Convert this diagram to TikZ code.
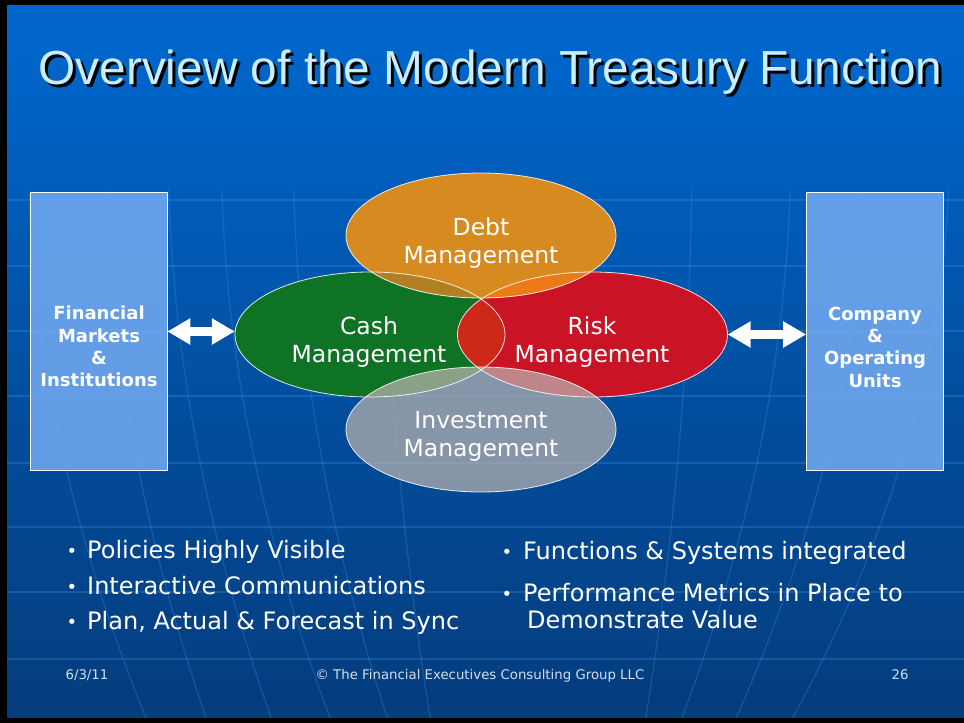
\documentclass[tikz,border=0pt]{standalone}
\usepackage{fontspec}
\setmainfont{DejaVu Sans}
\newfontfamily\arialf{Liberation Sans}
\usetikzlibrary{arrows.meta,shapes.geometric}

\definecolor{bgtop}{RGB}{0,102,204}
\definecolor{bgmid}{RGB}{2,76,154}
\definecolor{bgbot}{RGB}{8,40,88}
\definecolor{gridc}{RGB}{70,150,235}
\definecolor{titlec}{RGB}{204,236,255}
\definecolor{boxc}{RGB}{110,166,238}
\definecolor{cashc}{RGB}{14,115,37}
\definecolor{riskc}{RGB}{202,20,38}
\definecolor{debtc}{RGB}{214,138,32}
\definecolor{lensc}{RGB}{206,40,24}
\definecolor{debtcashc}{RGB}{178,128,34}
\definecolor{debtriskc}{RGB}{236,122,22}
\definecolor{investc}{RGB}{186,178,174}
\definecolor{footc}{RGB}{210,222,236}

\pgfdeclareverticalshading{slidebg}{100bp}{color(0bp)=(bgbot); color(45bp)=(bgmid); color(72bp)=(bgtop); color(100bp)=(bgtop)}

\tikzset{
  gridline/.style={draw=gridc, draw opacity=0.28, line width=1.2pt},
  sidebox/.style={rectangle, draw=white, line width=0.8pt, fill=boxc, fill opacity=0.9, minimum width=137pt, minimum height=278pt, inner sep=0pt},
  boxtxt/.style={text=white, align=center, font=\bfseries\fontsize{18}{22.3}\selectfont, inner sep=0pt},
  venn/.style={ellipse, inner sep=0pt, minimum width=270pt, minimum height=125pt},
  vennrim/.style={draw=white, line width=0.8pt, draw opacity=0.85},
  venntxt/.style={text=white, align=center, font=\fontsize{23.5}{28}\selectfont, inner sep=0pt},
  blockarrow/.style={draw=white, line width=9pt, {Triangle[length=23pt,width=25pt]}-{Triangle[length=23pt,width=25pt]}},
  bullettxt/.style={text=white, anchor=base west, font=\fontsize{24}{28}\selectfont, inner sep=0pt},
  bulletdot/.style={text=white, anchor=base, font=\fontsize{18}{20}\selectfont, inner sep=0pt},
  foottxt/.style={text=footc, anchor=base, font=\fontsize{13.3}{15}\selectfont, inner sep=0pt},
  er/.style={x radius=135pt, y radius=62.5pt},
}

\begin{document}
\begin{tikzpicture}[x=1pt,y=-1pt]
\useasboundingbox (0,0) rectangle (964,723);
% background
\shade[shading=slidebg] (0,0) rectangle (964,723);
\foreach \yy in {200,266,331,396,463,527,592,659}
  \draw[gridline] (7,\yy) -- (964,\yy);
\begin{scope}
\clip (0,190) rectangle (964,723);
\foreach \xx/\aa in {28/120,106/102,168/105,221/111,293/96,384/47,692/-47,791/-111,865/-131,950/-160} {
  \draw[gridline] (\xx,140) .. controls (\xx,334) and (\xx+\aa/3,528) .. (\xx+\aa,723);
}
\end{scope}
\fill[black] (0,0) rectangle (7,723);
\fill[black] (0,0) rectangle (964,5);
\fill[black] (0,718) rectangle (964,723);

% title
\node[anchor=base, text=black, inner sep=0pt, font=\arialf\fontsize{47.8}{57}\selectfont] (titleshadow) at (493.5,87) {Overview of the Modern Treasury Function};
\node[anchor=base, text=titlec, inner sep=0pt, font=\arialf\fontsize{47.8}{57}\selectfont] (title) at (490.5,84) {Overview of the Modern Treasury Function};

% side boxes
\node[sidebox] (leftbox) at (98.5,331.5) {};
\node[sidebox] (rightbox) at (875,331.5) {};
\node[boxtxt] (lefttxt) at (99,346.5) {Financial\\Markets\\\&\\Institutions};
\node[boxtxt] (righttxt) at (875,347) {Company\\\&\\Operating\\Units};

% venn ellipses
\node[venn, fill=cashc] (cash) at (370,334.5) {};
\node[venn, fill=riskc] (risk) at (592.5,334.5) {};
\begin{scope}
  \clip (cash.center) ellipse [er];
  \fill[lensc] (risk.center) ellipse [er];
\end{scope}
\node[venn, fill=debtc] (debt) at (481,235.5) {};
\begin{scope}
  \clip (debt.center) ellipse [er];
  \fill[debtcashc] (cash.center) ellipse [er];
  \fill[debtriskc] (risk.center) ellipse [er];
\end{scope}
\node[venn, fill=investc, fill opacity=0.72] (invest) at (481,429.5) {};
\draw[vennrim] (cash.center) ellipse [er];
\draw[vennrim] (risk.center) ellipse [er];
\draw[vennrim] (debt.center) ellipse [er];
\draw[vennrim] (invest.center) ellipse [er];

\node[venntxt] (debttxt) at (481,243.4) {Debt\\Management};
\node[venntxt] (cashtxt) at (369,342.4) {Cash\\Management};
\node[venntxt] (risktxt) at (592,342.4) {Risk\\Management};
\node[venntxt] (investtxt) at (481,436) {Investment\\Management};

% arrows
\draw[blockarrow] (leftbox.east) -- (leftbox.east -| cash.west);
\draw[blockarrow] (risk.east) -- (risk.east -| rightbox.west);

% bullets left
\node[bulletdot] (d1) at (72,557) {•};
\node[bullettxt] (t1) at (87,558) {Policies Highly Visible};
\node[bulletdot] (d2) at (72,593) {•};
\node[bullettxt] (t2) at (87,594) {Interactive Communications};
\node[bulletdot] (d3) at (72,628) {•};
\node[bullettxt] (t3) at (87,629) {Plan, Actual \& Forecast in Sync};
% bullets right
\node[bulletdot] (d4) at (507,558) {•};
\node[bullettxt] (t4) at (523,559) {Functions \& Systems integrated};
\node[bulletdot] (d5) at (507,600) {•};
\node[bullettxt] (t5) at (523,601) {Performance Metrics in Place to};
\node[bullettxt] (t6) at (527,628) {Demonstrate Value};

% footer
\node[foottxt] (fdate) at (87,679) {6/3/11};
\node[foottxt] (fcopy) at (480,679) {© The Financial Executives Consulting Group LLC};
\node[foottxt] (fpage) at (900,679) {26};
\end{tikzpicture}
\end{document}
